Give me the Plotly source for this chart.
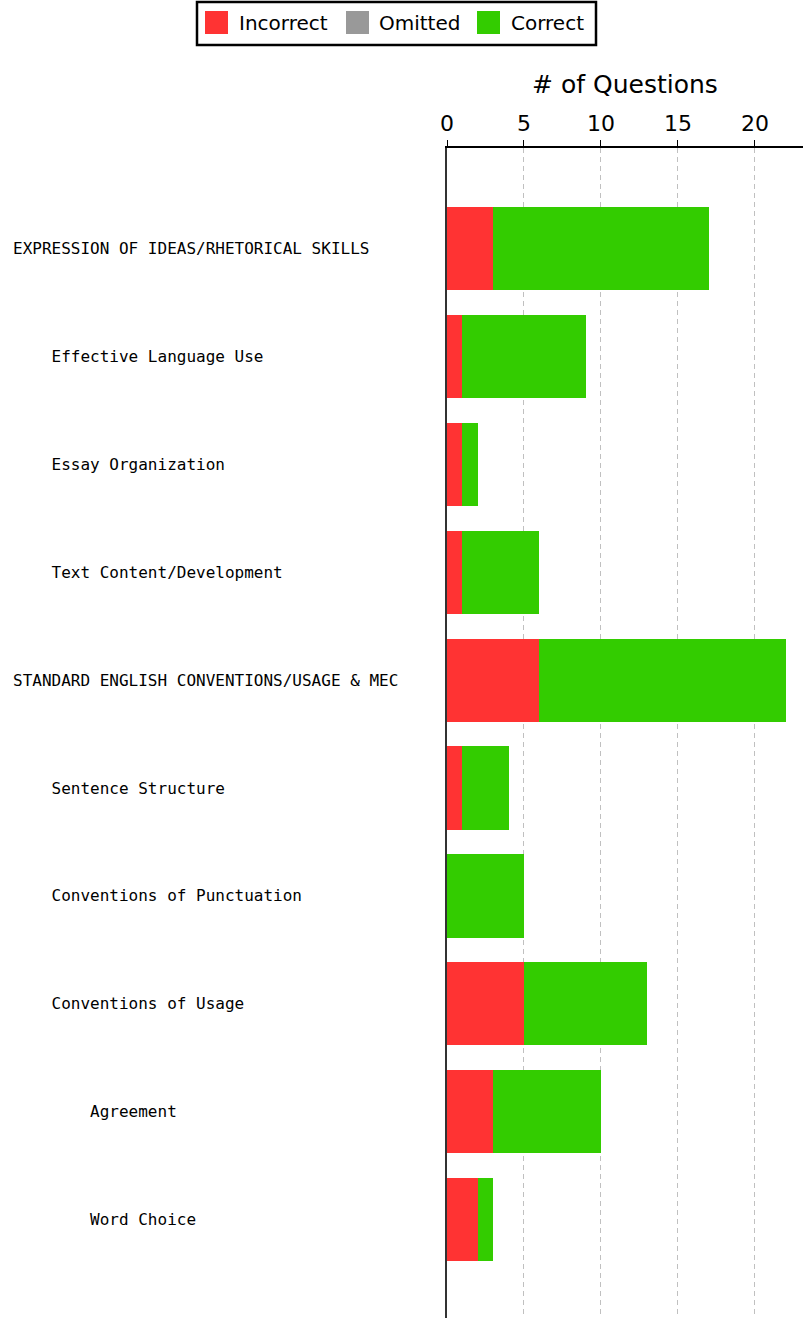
import plotly.graph_objects as go

categories = [
    "EXPRESSION OF IDEAS/RHETORICAL SKILLS",
    "Effective Language Use",
    "Essay Organization",
    "Text Content/Development",
    "STANDARD ENGLISH CONVENTIONS/USAGE & MEC",
    "Sentence Structure",
    "Conventions of Punctuation",
    "Conventions of Usage",
    "Agreement",
    "Word Choice",
]
levels = [0, 1, 1, 1, 0, 1, 1, 1, 2, 2]
incorrect = [3, 1, 1, 1, 6, 1, 0, 5, 3, 2]
omitted = [0, 0, 0, 0, 0, 0, 0, 0, 0, 0]
correct = [14, 8, 1, 5, 16, 3, 5, 8, 7, 1]

series = [("Incorrect", incorrect, "#FF3333"),
          ("Omitted", omitted, "#999999"),
          ("Correct", correct, "#33CC00")]

W, H = 806, 1318
L, R, T, B = 447, 3, 148, 0
PW, PH = W - L - R, H - T - B

def px(X):
    return (X - L) / PW

def py(Y):
    return (H - B - Y) / PH

fig = go.Figure()
for name, vals, col in series:
    fig.add_trace(go.Bar(
        y=categories, x=vals, name=name, orientation="h",
        marker=dict(color=col, line=dict(width=0)),
        width=0.77, showlegend=False,
    ))

annotations = []
for cat, lvl in zip(categories, levels):
    annotations.append(dict(
        x=px(11), xref="paper", xanchor="left",
        y=cat, yref="y", yanchor="middle",
        text="\u00a0" * (4 * lvl) + cat, showarrow=False,
        font=dict(family="DejaVu Sans Mono", size=16, color="black"),
    ))

# manual legend
shapes = [dict(type="rect", xref="paper", yref="paper",
               x0=px(197), x1=px(596), y0=py(45), y1=py(2),
               line=dict(color="black", width=2.5), fillcolor="white", layer="above")]
swatch_x = [205, 346, 477]
text_x = [237, 377, 509]
for (name, vals, col), sx, tx in zip(series, swatch_x, text_x):
    shapes.append(dict(type="rect", xref="paper", yref="paper",
                       x0=px(sx), x1=px(sx + 23), y0=py(34), y1=py(11),
                       line=dict(width=0), fillcolor=col, layer="above"))
    annotations.append(dict(x=px(tx), xref="paper", xanchor="left",
                            y=py(23), yref="paper", yanchor="middle",
                            text=name, showarrow=False,
                            font=dict(family="DejaVu Sans", size=20, color="black")))

fig.update_layout(
    width=W, height=H,
    margin=dict(l=L, r=R, t=T, b=B, pad=0),
    paper_bgcolor="white", plot_bgcolor="white",
    barmode="stack", bargap=0.23,
    showlegend=False,
    annotations=annotations, shapes=shapes,
    xaxis=dict(
        side="top", range=[0, 23.12], dtick=5, tick0=0,
        showgrid=True, gridcolor="#c0c0c0", gridwidth=1, griddash="5px,4px",
        zeroline=False,
        showline=True, linecolor="black", linewidth=2,
        ticks="outside", ticklen=6, tickcolor="black", tickwidth=1,
        tickfont=dict(family="DejaVu Sans", size=22, color="black"),
        title=dict(text="# of Questions", standoff=10,
                   font=dict(family="DejaVu Sans", size=25, color="black")),
    ),
    yaxis=dict(
        type="category", range=[9.91, -0.93],
        showticklabels=False, showgrid=False, zeroline=False,
        showline=True, linecolor="#333333", linewidth=2, ticks="",
    ),
)

fig.write_html(
    "out.html",
    config={"displayModeBar": False},
    post_script="document.body.style.margin='0';document.body.style.padding='0';document.body.style.overflow='hidden';",
)
